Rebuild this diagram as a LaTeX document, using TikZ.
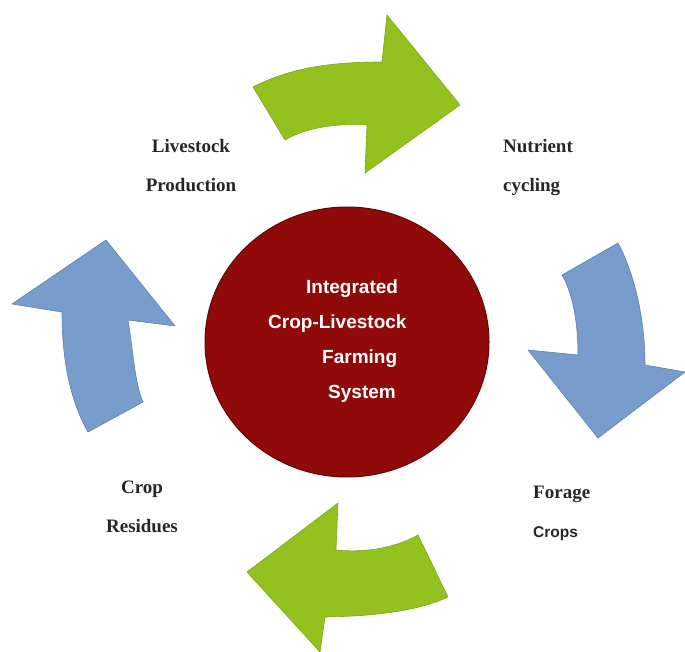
\documentclass[tikz,border=0pt]{standalone}
\usepackage{fontspec}
\setmainfont{Liberation Serif}
\setsansfont{Liberation Sans}
\usetikzlibrary{shapes.geometric}

\definecolor{leafgreen}{HTML}{93C11E}
\definecolor{leafedge}{HTML}{7FA617}
\definecolor{skyblue}{HTML}{789CCB}
\definecolor{skyedge}{HTML}{5E7FAE}
\definecolor{hubred}{HTML}{900A0A}
\definecolor{hubedge}{HTML}{650404}

\begin{document}
\begin{tikzpicture} [
    x=1pt, y=-1pt,
    hub/.style={ellipse, draw=hubedge, line width=1pt, fill=hubred, minimum width=284pt, minimum height=270pt, inner sep=0pt},
    hubtext/.style={align=left, inner sep=0pt, text=white, font=\sffamily\bfseries\fontsize{19}{35}\selectfont},
    label/.style={inner sep=0pt, text=black!85, font=\bfseries\fontsize{19}{39}\selectfont},
    greenarrow/.style={fill=leafgreen, draw=leafedge, line width=0.6pt, line join=round},
    bluearrow/.style={fill=skyblue, draw=skyedge, line width=0.6pt, line join=round}
]
\useasboundingbox (0,0) rectangle (685,652);

% Centre of the cycle
\node[hub] (hub) at (347,342) {};
\node[hubtext, anchor=west] (title) at (268,341) {\hspace*{38pt}Integrated\\Crop-Livestock\\\hspace*{54pt}Farming\\\hspace*{60pt}System};

% Labels round the cycle
\node[label, align=center] (livestock) at (191,166) {Livestock\\Production};
\node[label, align=left, anchor=west] (nutrient) at (503,168) {Nutrient\\cycling};
\node[label, align=left, anchor=west] (forage) at (533,513) {Forage\\{\sffamily\fontsize{15.5}{39}\selectfont Crops}};
\node[label, align=center] (residues) at (142,507) {Crop\\Residues};

% Curved block arrows
% top: livestock -> nutrients
\filldraw[greenarrow] (253,87) .. controls (290,68) and (330,62) .. (382,62)
    -- (387,15) -- (460,105) -- (365,173) -- (367,125)
    .. controls (335,123) and (305,128) .. (285,140) -- cycle;
% right: nutrients -> forage
\filldraw[bluearrow] (562,275) -- (618,243)
    .. controls (635,275) and (645,320) .. (645,365)
    -- (685,372) -- (598,438) -- (528,350) -- (578,355)
    .. controls (578,320) and (572,292) .. (562,275) -- cycle;
% bottom: forage -> residues
\filldraw[greenarrow] (247,572) -- (338,503) -- (336,550)
    .. controls (365,553) and (395,548) .. (418,535)
    -- (448,597) .. controls (420,610) and (380,616) .. (325,617)
    -- (320,652) -- cycle;
% left: residues -> livestock
\filldraw[bluearrow] (106,240) -- (175,326) -- (128,320)
    .. controls (133,350) and (135,385) .. (143,402)
    -- (88,432) .. controls (70,400) and (62,360) .. (62,312)
    -- (12,304) -- cycle;

\end{tikzpicture}
\end{document}
